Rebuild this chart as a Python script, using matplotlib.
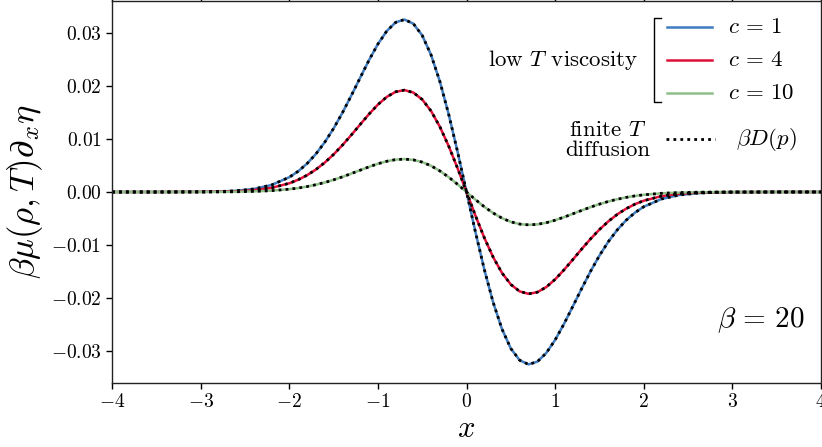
import numpy as np
import matplotlib
matplotlib.use('Agg')
import matplotlib.pyplot as plt
from matplotlib.lines import Line2D

plt.rcParams['font.family'] = 'serif'
plt.rcParams['font.serif'] = ['cmr10', 'DejaVu Serif']
plt.rcParams['mathtext.fontset'] = 'cm'
plt.rcParams['axes.unicode_minus'] = True

# values
x = [-4.0, -3.5, -3.0, -2.8, -2.6, -2.4, -2.2,
     -2.0, -1.9, -1.8, -1.7, -1.6, -1.5, -1.4, -1.3, -1.2, -1.1,
     -1.0, -0.9, -0.8, -0.7, -0.6, -0.5, -0.4, -0.3, -0.2, -0.1,
     0.0, 0.1, 0.2, 0.3, 0.4, 0.5, 0.6, 0.7, 0.8, 0.9,
     1.0, 1.1, 1.2, 1.3, 1.4, 1.5, 1.6, 1.7, 1.8, 1.9, 2.0,
     2.2, 2.4, 2.6, 2.8, 3.0, 3.5, 4.0]

c1 = [0.0, 0.0, 0.00003, 0.00008, 0.00023, 0.00057, 0.00132,
      0.00278, 0.00390, 0.00534, 0.00716, 0.00937, 0.01198, 0.01494, 0.01818, 0.02154, 0.02486,
      0.02788, 0.03034, 0.03197, 0.03250, 0.03172, 0.02951, 0.02583, 0.02078, 0.01456, 0.00750,
      0.0, -0.00750, -0.01456, -0.02078, -0.02583, -0.02951, -0.03172, -0.03250, -0.03197, -0.03034,
      -0.02788, -0.02486, -0.02154, -0.01818, -0.01494, -0.01198, -0.00937, -0.00716, -0.00534, -0.00390, -0.00278,
      -0.00132, -0.00057, -0.00023, -0.00008, -0.00003, 0.0, 0.0]

c4 = [0.0, 0.0, 0.00002, 0.00005, 0.00013, 0.00034, 0.00078,
      0.00164, 0.00230, 0.00316, 0.00423, 0.00554, 0.00708, 0.00883, 0.01074, 0.01273, 0.01468,
      0.01647, 0.01792, 0.01888, 0.01920, 0.01874, 0.01743, 0.01526, 0.01227, 0.00860, 0.00443,
      0.0, -0.00443, -0.00860, -0.01227, -0.01526, -0.01743, -0.01874, -0.01920, -0.01888, -0.01792,
      -0.01647, -0.01468, -0.01273, -0.01074, -0.00883, -0.00708, -0.00554, -0.00423, -0.00316, -0.00230, -0.00164,
      -0.00078, -0.00034, -0.00013, -0.00005, -0.00002, 0.0, 0.0]

c10 = [0.0, 0.0, 0.00001, 0.00002, 0.00004, 0.00011, 0.00025,
       0.00053, 0.00074, 0.00102, 0.00137, 0.00179, 0.00229, 0.00285, 0.00347, 0.00411, 0.00474,
       0.00532, 0.00579, 0.00610, 0.00620, 0.00605, 0.00563, 0.00493, 0.00396, 0.00278, 0.00143,
       0.0, -0.00143, -0.00278, -0.00396, -0.00493, -0.00563, -0.00605, -0.00620, -0.00610, -0.00579,
       -0.00532, -0.00474, -0.00411, -0.00347, -0.00285, -0.00229, -0.00179, -0.00137, -0.00102, -0.00074, -0.00053,
       -0.00025, -0.00011, -0.00004, -0.00002, -0.00001, 0.0, 0.0]

series = [c1, c4, c10]
series_labels = [r'$c\,=\,1$', r'$c\,=\,4$', r'$c\,=\,10$']
colors = ['#3f7cc0', '#e0103a', '#8fbf88']

xticks = [-4, -3, -2, -1, 0, 1, 2, 3, 4]
xtick_labels = [r'$-4$', r'$-3$', r'$-2$', r'$-1$', r'$0$', r'$1$', r'$2$', r'$3$', r'$4$']
yticks = [-0.03, -0.02, -0.01, 0.0, 0.01, 0.02, 0.03]
ytick_labels = [r'$-0.03$', r'$-0.02$', r'$-0.01$', r'$0.00$', r'$0.01$', r'$0.02$', r'$0.03$']

fig = plt.figure(figsize=(8.22, 4.47), dpi=100)
ax = fig.add_axes([0.1363, 0.1432, 0.8625, 0.8546])

for y, col in zip(series, colors):
    ax.plot(x, y, color=col, lw=1.8)
for y in series:
    ax.plot(x, y, color='black', lw=2.0, ls=(0, (1, 1.5)))

ax.set_xlim(-4, 4)
ax.set_ylim(-0.036, 0.036)
ax.set_xticks(xticks)
ax.set_xticklabels(xtick_labels, fontsize=14)
ax.set_yticks(yticks)
ax.set_yticklabels(ytick_labels, fontsize=14)
ax.tick_params(axis='both', direction='out', length=4, width=1)
ax.tick_params(top=True, right=True)
for s in ax.spines.values():
    s.set_linewidth(1.0)
    s.set_color('#222222')

ax.set_xlabel(r'$x$', fontsize=22, labelpad=3)
ax.set_ylabel(r'$\beta\mu(\rho,T)\partial_x\eta$', fontsize=25, labelpad=4)

# hand-made legend
T = ax.transAxes
hy = [0.9319, 0.8455, 0.7592]
for yy, col, lab in zip(hy, colors, series_labels):
    ax.add_line(Line2D([0.7828, 0.8463], [yy, yy], color=col, lw=1.8, transform=T))
    ax.text(0.8688, yy, lab, transform=T, fontsize=16.5, va='center', ha='left')
ax.add_line(Line2D([0.7743, 0.7645, 0.7645, 0.7743], [0.9555, 0.9555, 0.7356, 0.7356],
                   color='black', lw=1.0, transform=T))
ax.text(0.7419, 0.8455, r'low $T$ viscosity', transform=T, fontsize=16.5, ha='right', va='center')
ax.text(0.7588, 0.636, 'finite $T$\ndiffusion', transform=T, fontsize=16.5, ha='right', va='center',
        multialignment='center', linespacing=1.05)
ax.add_line(Line2D([0.7814, 0.8505], [0.6387, 0.6387], color='black', lw=2.0, ls=(0, (1, 1.5)),
                   transform=T))
ax.text(0.880, 0.6387, r'$\beta D(p)$', transform=T, fontsize=16.5, ha='left', va='center')

ax.text(0.853, 0.165, r'$\beta\,=\,20$', transform=T, fontsize=21, ha='left', va='center')

fig.savefig('out.png', dpi=100)
